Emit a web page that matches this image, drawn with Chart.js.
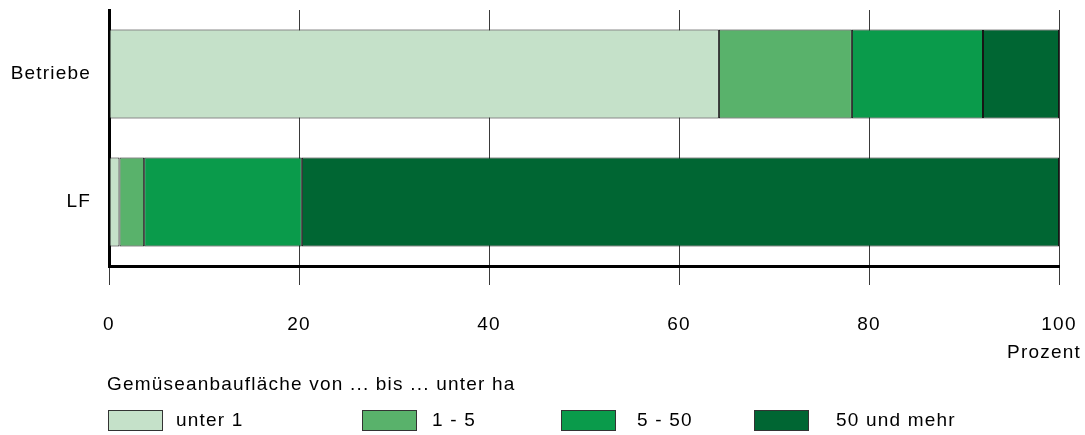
<!DOCTYPE html>
<html>
<head>
<meta charset="utf-8">
<script src="https://cdn.jsdelivr.net/npm/chart.js@4"></script>
<style>
  html, body { margin: 0; padding: 0; background: #fff; }
  #wrap { width: 1085px; height: 435px; position: relative; }
</style>
</head>
<body>
<div id="wrap"><canvas id="c"></canvas></div>
<script>
const categories = ["Betriebe", "LF"];
const seriesLabels = ["unter 1", "1 - 5", "5 - 50", "50 und mehr"];
const unter1 = [64.2, 1.1];
const von1bis5 = [14.0, 2.6];
const von5bis50 = [13.8, 16.6];
const ab50 = [8.0, 79.7];
const xTicks = [0, 20, 40, 60, 80, 100];
const legendTitle = "Gemüseanbaufläche von ... bis ... unter ha";
const axisUnit = "Prozent";

const colors = ["#c5e1c9", "#59b26b", "#0a9b4b", "#006633"];
const values = [unter1, von1bis5, von5bis50, ab50];

const FONT = "'Liberation Sans', Arial, sans-serif";
const FS = 19;
const LS = '1.2px';

const spacingPlugin = {
  id: 'spacing',
  beforeDraw(chart) { chart.ctx.letterSpacing = LS; },
  afterDraw(chart) {
    const ctx = chart.ctx;
    ctx.save();
    ctx.letterSpacing = LS;
    ctx.fillStyle = '#000';
    ctx.font = FS + 'px ' + FONT;
    ctx.textBaseline = 'middle';
    // axis unit
    ctx.textAlign = 'right';
    ctx.fillText(axisUnit, 1081, 353);
    // legend title
    ctx.textAlign = 'left';
    ctx.fillText(legendTitle, 107, 385);
    // legend items
    const boxX = [108, 362, 561, 754];
    const textX = [176, 432, 637, 836];
    chart.data.datasets.forEach((ds, i) => {
      ctx.fillStyle = ds.backgroundColor;
      ctx.fillRect(boxX[i], 410, 54, 20);
      ctx.strokeStyle = '#333';
      ctx.lineWidth = 1;
      ctx.strokeRect(boxX[i] + 0.5, 410.5, 54, 20);
      ctx.fillStyle = '#000';
      ctx.fillText(ds.label, textX[i], 421);
    });
    ctx.restore();
  }
};

new Chart(document.getElementById('c'), {
  type: 'bar',
  data: {
    labels: categories,
    datasets: seriesLabels.map((l, i) => ({
      label: l,
      data: values[i],
      backgroundColor: colors[i],
      borderColor: '#161616',
      borderWidth: 1,
      borderSkipped: false,
      categoryPercentage: 1,
      barPercentage: 0.695
    }))
  },
  options: {
    indexAxis: 'y',
    responsive: true,
    maintainAspectRatio: false,
    animation: false,
    devicePixelRatio: 1,
    layout: { padding: { top: 10, right: 26, bottom: 0, left: 0 } },
    plugins: { legend: { display: false }, tooltip: { enabled: false } },
    scales: {
      x: {
        stacked: true,
        min: 0, max: 100,
        afterBuildTicks(scale) { scale.ticks = xTicks.map(v => ({ value: v })); },
        afterFit(scale) { scale.height = 169; scale.paddingLeft = 0; scale.paddingRight = 0; },
        ticks: { color: '#000', font: { family: FONT, size: FS }, padding: 28, maxRotation: 0 },
        grid: { color: '#3a3a3a', lineWidth: 1, tickLength: 19, drawOnChartArea: true },
        border: { display: true, color: '#000', width: 3 }
      },
      y: {
        stacked: true,
        afterFit(scale) { scale.width = 109; scale.paddingTop = 0; scale.paddingBottom = 0; },
        ticks: { color: '#000', font: { family: FONT, size: FS }, padding: 18 },
        grid: { display: false, drawTicks: false },
        border: { display: true, color: '#000', width: 3 }
      }
    }
  },
  plugins: [spacingPlugin]
});
</script>
</body>
</html>
